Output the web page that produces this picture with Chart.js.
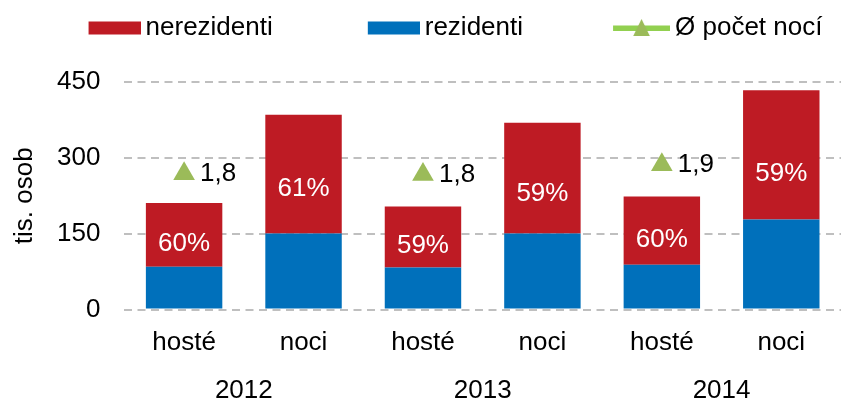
<!DOCTYPE html>
<html>
<head>
<meta charset="utf-8">
<script src="https://cdn.jsdelivr.net/npm/chart.js@4.4.0/dist/chart.umd.min.js"></script>
<style>
html,body{margin:0;padding:0;background:#fff;}
#wrap{width:841px;height:401px;position:relative;}
</style>
</head>
<body>
<div id="wrap"><canvas id="c"></canvas></div>
<script>
// ---- data ----
const categories = ['hosté', 'noci', 'hosté', 'noci', 'hosté', 'noci'];
const years = ['2012', '2013', '2014'];
const rezidenti = [84.5, 150.4, 83.3, 150.4, 88.4, 178.0];
const nerezidenti = [126.3, 234.6, 120.4, 219.0, 135.0, 255.8];
const nerezidentiShare = ['60%', '61%', '59%', '59%', '60%', '59%'];
const avgNights = [1.79, null, 1.78, null, 1.91, null];
const yTicks = [0, 150, 300, 450];
const seriesNames = ['rezidenti', 'nerezidenti', 'Ø počet nocí'];

const FONT = "'Liberation Sans', Arial, sans-serif";
const RED = '#BE1B24';
const BLUE = '#0070BB';
const GREEN = '#9BBB59';
const GREEN_LINE = '#92D050';

Chart.defaults.font.family = FONT;
Chart.defaults.font.size = 26;
Chart.defaults.color = '#000';

// legend symbol images (box, box, line with triangle marker)
const LEG_BOX = 134;
function legendImg(kind) {
  const W = LEG_BOX + 16, H = 26;
  const c = document.createElement('canvas');
  c.width = W; c.height = H;
  const g = c.getContext('2d');
  if (kind === 'line') {
    g.fillStyle = GREEN_LINE;
    g.fillRect(W - 57, 10.5, 57, 5.5);
    g.fillStyle = GREEN;
    g.beginPath();
    g.moveTo(W - 28.5, 4);
    g.lineTo(W - 20.2, 21);
    g.lineTo(W - 36.8, 21);
    g.closePath();
    g.fill();
  } else {
    g.fillStyle = kind === 'red' ? RED : BLUE;
    g.fillRect(W - 52, 6.5, 52, 13);
  }
  return c;
}
const imgRed = legendImg('red');
const imgBlue = legendImg('blue');
const imgLine = legendImg('line');

const legendSpacing = {
  id: 'legendSpacing',
  beforeInit(chart) {
    const origFit = chart.legend.fit;
    chart.legend.fit = function () {
      origFit.bind(chart.legend)();
      this.height += 31;
    };
  },
  afterLayout(chart) {
    chart.legend.left -= 10;
    chart.legend.right -= 10;
  }
};

const valueLabels = {
  id: 'valueLabels',
  afterDatasetsDraw(chart) {
    const ctx = chart.ctx;
    const ys = chart.scales.y;
    ctx.save();
    ctx.font = '26px ' + FONT;
    ctx.textBaseline = 'middle';
    ctx.fillStyle = '#fff';
    ctx.textAlign = 'center';
    chart.getDatasetMeta(1).data.forEach((bar, i) => {
      const total = rezidenti[i] + nerezidenti[i];
      ctx.fillText(nerezidentiShare[i], bar.x, ys.getPixelForValue(total * 0.62));
    });
    ctx.fillStyle = '#000';
    ctx.textAlign = 'left';
    chart.getDatasetMeta(2).data.forEach((pt, i) => {
      if (avgNights[i] == null) return;
      ctx.fillText(avgNights[i].toFixed(1).replace('.', ','), pt.x + 16, pt.y);
    });
    ctx.restore();
  }
};

new Chart(document.getElementById('c'), {
  data: {
    labels: categories,
    datasets: [
      { type: 'bar', label: seriesNames[0], data: rezidenti, backgroundColor: BLUE, stack: 's', barPercentage: 0.64, categoryPercentage: 1, order: 2 },
      { type: 'bar', label: seriesNames[1], data: nerezidenti, backgroundColor: RED, stack: 's', barPercentage: 0.64, categoryPercentage: 1, order: 2 },
      { type: 'line', label: seriesNames[2], data: avgNights, yAxisID: 'y2', showLine: false, pointStyle: 'triangle', pointRadius: 12.5, pointHoverRadius: 12.5,
        pointBackgroundColor: GREEN, pointBorderColor: GREEN, pointBorderWidth: 0, backgroundColor: GREEN, borderColor: GREEN_LINE, order: 0 }
    ]
  },
  options: {
    responsive: true,
    maintainAspectRatio: false,
    animation: false,
    layout: { autoPadding: false, padding: { top: 10, right: 0, left: 0, bottom: -5 } },
    plugins: {
      tooltip: { enabled: false },
      legend: {
        position: 'top',
        labels: {
          usePointStyle: true, pointStyleWidth: LEG_BOX, padding: 5, color: '#000', font: { size: 26 },
          generateLabels(chart) {
            const ds = chart.data.datasets;
            return [
              { text: ds[1].label, pointStyle: imgRed, datasetIndex: 1, hidden: false, lineWidth: 0, fillStyle: RED, strokeStyle: RED },
              { text: ds[0].label, pointStyle: imgBlue, datasetIndex: 0, hidden: false, lineWidth: 0, fillStyle: BLUE, strokeStyle: BLUE },
              { text: ds[2].label, pointStyle: imgLine, datasetIndex: 2, hidden: false, lineWidth: 0, fillStyle: GREEN, strokeStyle: GREEN }
            ];
          }
        }
      }
    },
    scales: {
      x: {
        type: 'category', position: 'bottom', stacked: true, offset: true, weight: 0,
        grid: { display: false, drawTicks: false }, border: { display: false },
        ticks: { padding: 20.5, autoSkip: false, maxRotation: 0, font: { size: 26, lineHeight: 1 } }
      },
      x2: {
        type: 'category', labels: years, position: 'bottom', offset: true, weight: 1,
        grid: { display: false, drawTicks: false }, border: { display: false },
        ticks: { padding: 1.75, autoSkip: false, maxRotation: 0, font: { size: 26, lineHeight: 1 } }
      },
      y: {
        stacked: true, min: 0, max: 450,
        afterBuildTicks(scale) { scale.ticks = yTicks.map(v => ({ value: v })); },
        ticks: { padding: 24, font: { size: 26 } },
        grid: { color: '#BFBFBF', lineWidth: 2, drawTicks: false },
        border: { display: false, dash: [8, 5.5] },
        title: { display: true, text: 'tis. osob', font: { size: 26, lineHeight: 1 }, padding: { top: 12, bottom: -5 } }
      },
      y2: { display: false, min: 0, max: 3 }
    }
  },
  plugins: [legendSpacing, valueLabels]
});
</script>
</body>
</html>
